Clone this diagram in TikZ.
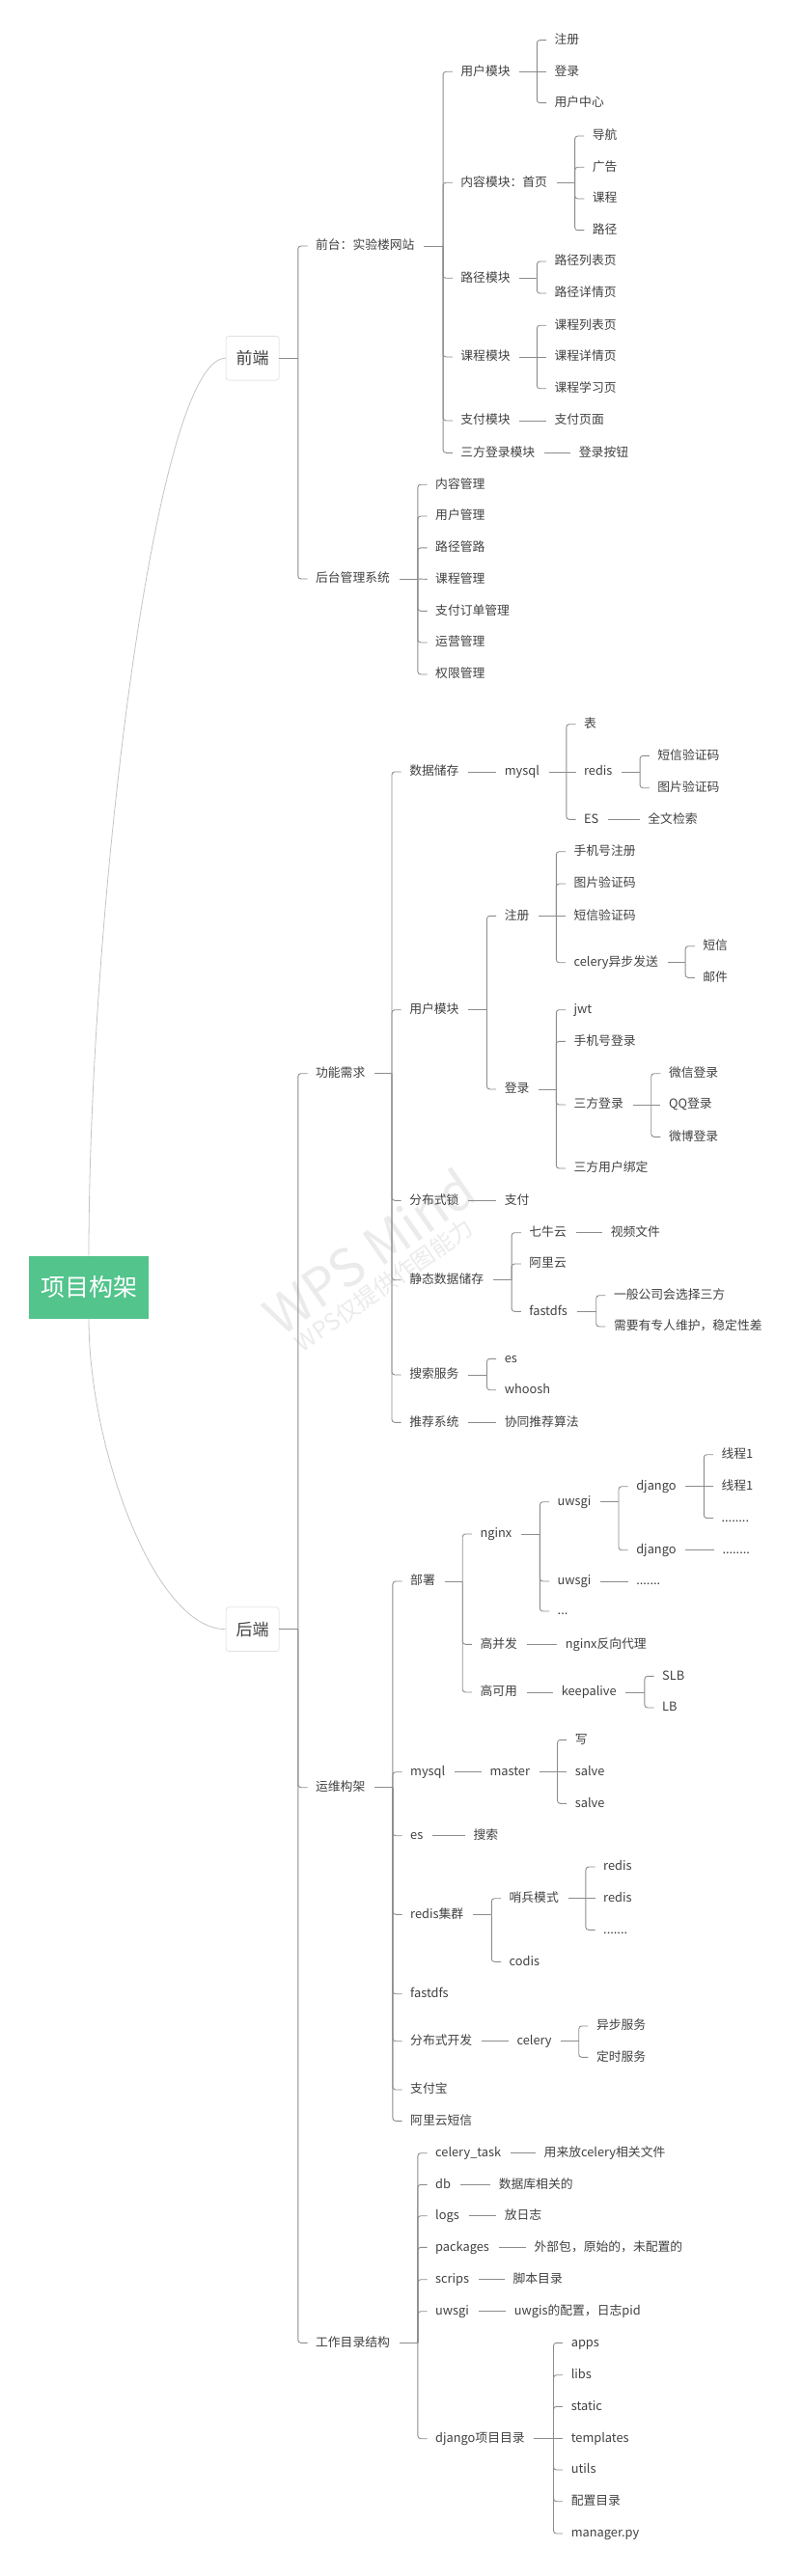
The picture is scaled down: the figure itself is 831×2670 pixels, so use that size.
\documentclass[tikz,border=0pt]{standalone}
\usepackage{fontspec}
\setmainfont{Noto Sans CJK SC}
\definecolor{linegray}{HTML}{8C8C8C}
\definecolor{curvegray}{HTML}{C4C4C4}
\definecolor{txtgray}{HTML}{404040}
\definecolor{rootgreen}{HTML}{52C48C}
\definecolor{wmgray}{HTML}{EBEBEB}

\tikzset{
  topic/.style={anchor=west, inner sep=0pt, text height=0.88em, text depth=0.12em,
    text=txtgray, font=\fontsize{12.8}{15}\selectfont},
  main/.style={draw=black!18, rounded corners=3pt, minimum width=55.1pt,
    minimum height=45.7pt, inner sep=0pt, text=txtgray, font=\fontsize{17}{19}\selectfont},
  conn/.style={draw=linegray, line width=0.9pt},
  curve/.style={draw=curvegray, line width=0.8pt},
}

% parent -> children, bracket 18.1pt left of the children
\newcommand\branch[3][9.6pt]{%
  \foreach \c [count=\i] in {#3}{%
    \ifnum\i=1
      \path ([xshift=-18.1pt]\c.west) coordinate (#2-x);
      \coordinate (#2-bk) at (#2-x |- #2.east);
    \fi
    \pgfpointanchor{\c}{west}\pgfgetlastxy{\cx}{\cy}%
    \pgfpointanchor{#2}{east}\pgfgetlastxy{\px}{\py}%
    \pgfmathsetmacro\dy{abs(\cy-\py)}%
    \ifdim\dy pt<0.5pt
      \draw[conn] (#2-bk) -- ([xshift=-8.4pt]\c.west);
    \else
      \draw[conn, rounded corners=3pt] (#2-bk) |- ([xshift=-8.4pt]\c.west);
    \fi
  }
  \draw[conn] ([xshift=#1]#2.east) -- (#2-bk);
}

\begin{document}
\begin{tikzpicture}[x=1pt,y=-1pt]
    \useasboundingbox (0,0) rectangle (831,2670);
    \node[rotate=35, text=wmgray, font=\fontsize{54}{58}\selectfont] (wm1) at (382,1297) {WPS Mind};
    \node[rotate=35, text=wmgray, font=\fontsize{24}{26}\selectfont] (wm2) at (398,1332) {WPS仅提供作图能力};

    \node[fill=rootgreen, minimum width=124pt, minimum height=65pt, inner sep=0pt,
      text=white, font=\fontsize{25}{28}\selectfont] (root) at (92,1334.2) {项目构架};
    \node[main] (fe) at (261.6,371.2) {前端};
    \node[main] (be) at (261.6,1688.7) {后端};
    \draw[curve] (root.north) .. controls (92,950) and (160,371.2) .. (fe.west);
    \draw[curve] (root.south) .. controls (92,1500) and (160,1688.7) .. (be.west);

    % 前端
    \node[topic] (site) at (326.9,255) {前台：实验楼网站};
    \node[topic] (admin) at (326.9,600) {后台管理系统};
    \node[topic] (s-user) at (477.2,74.3) {用户模块};
    \node[topic] (s-home) at (477.2,189.3) {内容模块：首页};
    \node[topic] (s-path) at (477.2,288.3) {路径模块};
    \node[topic] (s-course) at (477.2,370) {课程模块};
    \node[topic] (s-pay) at (477.2,436) {支付模块};
    \node[topic] (s-oauth) at (477.2,469.3) {三方登录模块};
    \node[topic] (u-reg) at (574.4,41.7) {注册};
    \node[topic] (u-login) at (574.4,74.3) {登录};
    \node[topic] (u-center) at (574.4,106.7) {用户中心};
    \node[topic] (h-nav) at (613.7,141) {导航};
    \node[topic] (h-ad) at (613.7,173.3) {广告};
    \node[topic] (h-course) at (613.7,206) {课程};
    \node[topic] (h-path) at (613.7,238.7) {路径};
    \node[topic] (p-list) at (574.4,271) {路径列表页};
    \node[topic] (p-detail) at (574.4,304) {路径详情页};
    \node[topic] (c-list) at (574.4,337.3) {课程列表页};
    \node[topic] (c-detail) at (574.4,370) {课程详情页};
    \node[topic] (c-learn) at (574.4,402.7) {课程学习页};
    \node[topic] (pay-page) at (574.4,436) {支付页面};
    \node[topic] (oauth-btn) at (599.7,469.3) {登录按钮};
    \node[topic] (a-content) at (451,502.2) {内容管理};
    \node[topic] (a-user) at (451,535) {用户管理};
    \node[topic] (a-path) at (451,567.8) {路径管路};
    \node[topic] (a-course) at (451,600.4) {课程管理};
    \node[topic] (a-order) at (451,633.3) {支付订单管理};
    \node[topic] (a-ops) at (451,666) {运营管理};
    \node[topic] (a-perm) at (451,699) {权限管理};

    \branch[0pt]{fe}{site,admin}
    \branch{site}{s-user,s-home,s-path,s-course,s-pay,s-oauth}
    \branch{s-user}{u-reg,u-login,u-center}
    \branch{s-home}{h-nav,h-ad,h-course,h-path}
    \branch{s-path}{p-list,p-detail}
    \branch{s-course}{c-list,c-detail,c-learn}
    \branch{s-pay}{pay-page}
    \branch{s-oauth}{oauth-btn}
    \branch{admin}{a-content,a-user,a-path,a-course,a-order,a-ops,a-perm}

    % 后端: 功能需求
    \node[topic] (fn) at (326.9,1112.7) {功能需求};
    \node[topic] (ops) at (326.9,1852.7) {运维构架};
    \node[topic] (dir) at (326.9,2428.3) {工作目录结构};
    \node[topic] (f-store) at (424.1,800) {数据储存};
    \node[topic] (f-user) at (424.1,1046.7) {用户模块};
    \node[topic] (f-lock) at (424.1,1244.3) {分布式锁};
    \node[topic] (f-static) at (424.1,1326.7) {静态数据储存};
    \node[topic] (f-search) at (424.1,1425) {搜索服务};
    \node[topic] (f-rec) at (424.1,1474.3) {推荐系统};
    \node[topic] (f-mysql) at (522.6,800) {mysql};
    \node[topic] (db-table) at (604.9,750.7) {表};
    \node[topic] (db-redis) at (604.9,800) {redis};
    \node[topic] (db-es) at (604.9,849.3) {ES};
    \node[topic] (r-sms) at (681.2,783.3) {短信验证码};
    \node[topic] (r-img) at (681.2,816.7) {图片验证码};
    \node[topic] (es-full) at (671.2,849.3) {全文检索};
    \node[topic] (f-reg) at (522.6,949.3) {注册};
    \node[topic] (f-login) at (522.6,1129) {登录};
    \node[topic] (reg-phone) at (594.4,882.7) {手机号注册};
    \node[topic] (reg-img) at (594.4,916) {图片验证码};
    \node[topic] (reg-sms) at (594.4,949.3) {短信验证码};
    \node[topic] (reg-celery) at (594.4,997.7) {celery异步发送};
    \node[topic] (cel-sms) at (728.2,980.7) {短信};
    \node[topic] (cel-mail) at (728.2,1013.3) {邮件};
    \node[topic] (lg-jwt) at (594.4,1046.7) {jwt};
    \node[topic] (lg-phone) at (594.4,1079.3) {手机号登录};
    \node[topic] (lg-third) at (594.4,1145) {三方登录};
    \node[topic] (lg-bind) at (594.4,1211) {三方用户绑定};
    \node[topic] (th-wx) at (692.8,1112.7) {微信登录};
    \node[topic] (th-qq) at (692.8,1145) {QQ登录};
    \node[topic] (th-wb) at (692.8,1178.3) {微博登录};
    \node[topic] (lock-pay) at (522.6,1244.3) {支付};
    \node[topic] (st-qiniu) at (548.2,1277.7) {七牛云};
    \node[topic] (st-ali) at (548.2,1310) {阿里云};
    \node[topic] (st-fdfs) at (548.2,1359.3) {fastdfs};
    \node[topic] (qn-video) at (632.6,1277.7) {视频文件};
    \node[topic] (fd-third) at (635.8,1342.7) {一般公司会选择三方};
    \node[topic] (fd-maint) at (635.8,1375) {需要有专人维护，稳定性差};
    \node[topic] (se-es) at (522.6,1408.3) {es};
    \node[topic] (se-whoosh) at (522.6,1440.7) {whoosh};
    \node[topic] (rec-cf) at (522.6,1474.3) {协同推荐算法};

    \branch[0pt]{be}{fn,ops,dir}
    \branch{fn}{f-store,f-user,f-lock,f-static,f-search,f-rec}
    \branch{f-store}{f-mysql}
    \branch{f-mysql}{db-table,db-redis,db-es}
    \branch{db-redis}{r-sms,r-img}
    \branch{db-es}{es-full}
    \branch{f-user}{f-reg,f-login}
    \branch{f-reg}{reg-phone,reg-img,reg-sms,reg-celery}
    \branch{reg-celery}{cel-sms,cel-mail}
    \branch{f-login}{lg-jwt,lg-phone,lg-third,lg-bind}
    \branch{lg-third}{th-wx,th-qq,th-wb}
    \branch{f-lock}{lock-pay}
    \branch{f-static}{st-qiniu,st-ali,st-fdfs}
    \branch{st-qiniu}{qn-video}
    \branch{st-fdfs}{fd-third,fd-maint}
    \branch{f-search}{se-es,se-whoosh}
    \branch{f-rec}{rec-cf}

    % 后端: 运维构架
    \node[topic] (o-deploy) at (425,1639) {部署};
    \node[topic] (o-mysql) at (425,1836.7) {mysql};
    \node[topic] (o-es) at (425,1902.7) {es};
    \node[topic] (o-redis) at (425,1984.3) {redis集群};
    \node[topic] (o-fdfs) at (425,2066.7) {fastdfs};
    \node[topic] (o-dist) at (425,2115.7) {分布式开发};
    \node[topic] (o-alipay) at (425,2166) {支付宝};
    \node[topic] (o-sms) at (425,2198.3) {阿里云短信};
    \node[topic] (dp-nginx) at (497.3,1590) {nginx};
    \node[topic] (dp-conc) at (497.3,1704.3) {高并发};
    \node[topic] (dp-ha) at (497.3,1754) {高可用};
    \node[topic] (ng-uw1) at (577.5,1556.7) {uwsgi};
    \node[topic] (ng-uw2) at (577.5,1639) {uwsgi};
    \node[topic] (ng-more) at (577.5,1670) {...};
    \node[topic] (uw-dj1) at (659.1,1540.7) {django};
    \node[topic] (uw-dj2) at (659.1,1606.7) {django};
    \node[topic] (dj1-t1) at (747.4,1507.7) {线程1};
    \node[topic] (dj1-t2) at (747.4,1540.7) {线程1};
    \node[topic] (dj1-more) at (747.4,1573.5) {........};
    \node[topic] (dj2-more) at (748.3,1606.7) {........};
    \node[topic] (uw2-more) at (659.1,1639) {.......};
    \node[topic] (conc-proxy) at (585.6,1704.3) {nginx反向代理};
    \node[topic] (ha-keep) at (581.6,1754) {keepalive};
    \node[topic] (kp-slb) at (686,1737.3) {SLB};
    \node[topic] (kp-lb) at (686,1770) {LB};
    \node[topic] (my-master) at (507.3,1836.7) {master};
    \node[topic] (ms-write) at (595.6,1803.3) {写};
    \node[topic] (ms-s1) at (595.6,1836.7) {salve};
    \node[topic] (ms-s2) at (595.6,1869.3) {salve};
    \node[topic] (es-search) at (490.4,1902.7) {搜索};
    \node[topic] (rd-sentinel) at (527.4,1967.7) {哨兵模式};
    \node[topic] (rd-codis) at (527.4,2033.3) {codis};
    \node[topic] (sn-r1) at (625,1935) {redis};
    \node[topic] (sn-r2) at (625,1967.7) {redis};
    \node[topic] (sn-more) at (625,2000.3) {.......};
    \node[topic] (ds-celery) at (535.4,2115.7) {celery};
    \node[topic] (cy-async) at (617.8,2100) {异步服务};
    \node[topic] (cy-timer) at (617.8,2132.3) {定时服务};

    \branch{ops}{o-deploy,o-mysql,o-es,o-redis,o-fdfs,o-dist,o-alipay,o-sms}
    \branch{o-deploy}{dp-nginx,dp-conc,dp-ha}
    \branch{dp-nginx}{ng-uw1,ng-uw2,ng-more}
    \branch{ng-uw1}{uw-dj1,uw-dj2}
    \branch{uw-dj1}{dj1-t1,dj1-t2,dj1-more}
    \branch{uw-dj2}{dj2-more}
    \branch{ng-uw2}{uw2-more}
    \branch{dp-conc}{conc-proxy}
    \branch{dp-ha}{ha-keep}
    \branch{ha-keep}{kp-slb,kp-lb}
    \branch{o-mysql}{my-master}
    \branch{my-master}{ms-write,ms-s1,ms-s2}
    \branch{o-es}{es-search}
    \branch{o-redis}{rd-sentinel,rd-codis}
    \branch{rd-sentinel}{sn-r1,sn-r2,sn-more}
    \branch{o-dist}{ds-celery}
    \branch{ds-celery}{cy-async,cy-timer}

    % 后端: 工作目录结构
    \node[topic] (d-task) at (451,2231.7) {celery\_task};
    \node[topic] (d-db) at (451,2264.3) {db};
    \node[topic] (d-logs) at (451,2296.7) {logs};
    \node[topic] (d-pkg) at (451,2329.3) {packages};
    \node[topic] (d-scrips) at (451,2362.7) {scrips};
    \node[topic] (d-uwsgi) at (451,2395.7) {uwsgi};
    \node[topic] (d-django) at (451,2527.7) {django项目目录};
    \node[topic] (task-note) at (563.5,2231.7) {用来放celery相关文件};
    \node[topic] (db-note) at (516.6,2264.3) {数据库相关的};
    \node[topic] (logs-note) at (522.6,2296.7) {放日志};
    \node[topic] (pkg-note) at (553.4,2329.3) {外部包，原始的，未配置的};
    \node[topic] (scrips-note) at (531.4,2362.7) {脚本目录};
    \node[topic] (uwsgi-note) at (532.6,2395.7) {uwgis的配置，日志pid};
    \node[topic] (pj-apps) at (591.6,2428.3) {apps};
    \node[topic] (pj-libs) at (591.6,2461.7) {libs};
    \node[topic] (pj-static) at (591.6,2494.3) {static};
    \node[topic] (pj-tpl) at (591.6,2527.7) {templates};
    \node[topic] (pj-utils) at (591.6,2560) {utils};
    \node[topic] (pj-conf) at (591.6,2592.7) {配置目录};
    \node[topic] (pj-manage) at (591.6,2626) {manager.py};

    \branch{dir}{d-task,d-db,d-logs,d-pkg,d-scrips,d-uwsgi,d-django}
    \branch{d-task}{task-note}
    \branch{d-db}{db-note}
    \branch{d-logs}{logs-note}
    \branch{d-pkg}{pkg-note}
    \branch{d-scrips}{scrips-note}
    \branch{d-uwsgi}{uwsgi-note}
    \branch{d-django}{pj-apps,pj-libs,pj-static,pj-tpl,pj-utils,pj-conf,pj-manage}
\end{tikzpicture}
\end{document}
